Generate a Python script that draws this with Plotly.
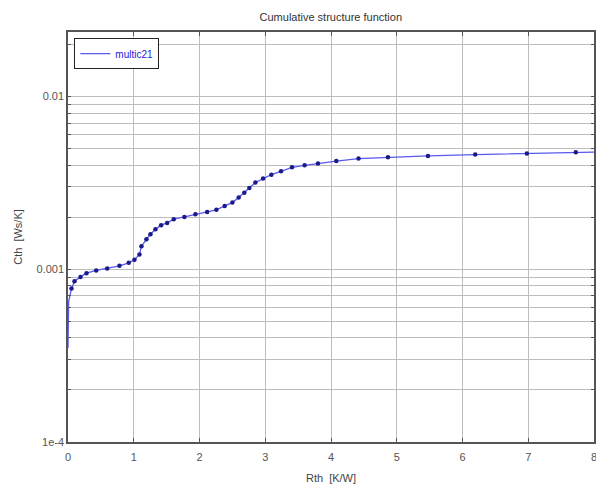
import plotly.graph_objects as go

# Data
rth = [0.0, 0.005, 0.01, 0.053, 0.099, 0.19, 0.281, 0.429, 0.596, 0.783, 0.924, 1.011,
       1.087, 1.117, 1.193, 1.254, 1.330, 1.416, 1.508, 1.608, 1.770, 1.938, 2.116,
       2.257, 2.383, 2.500, 2.596, 2.682, 2.758, 2.850, 2.967, 3.093, 3.240, 3.407,
       3.599, 3.802, 4.081, 4.419, 4.866, 5.474, 6.193, 6.979, 7.723, 8.0]
cth = [3.5e-4, 5.0e-4, 6.5e-4, 7.72e-4, 8.51e-4, 9.02e-4, 9.48e-4, 9.83e-4, 1.01e-3,
       1.045e-3, 1.088e-3, 1.133e-3, 1.217e-3, 1.355e-3, 1.489e-3, 1.592e-3, 1.703e-3,
       1.796e-3, 1.851e-3, 1.945e-3, 2.005e-3, 2.078e-3, 2.143e-3, 2.203e-3, 2.323e-3,
       2.427e-3, 2.599e-3, 2.767e-3, 2.946e-3, 3.175e-3, 3.35e-3, 3.52e-3, 3.68e-3,
       3.88e-3, 3.99e-3, 4.09e-3, 4.22e-3, 4.36e-3, 4.44e-3, 4.52e-3, 4.60e-3, 4.66e-3,
       4.74e-3, 4.76e-3]
has_marker = [False, False, False] + [True] * 40 + [False]

x_ticks = [0, 1, 2, 3, 4, 5, 6, 7, 8]
y_decades = [1e-4, 1e-3, 1e-2]
y_decade_labels = ["1e-4", "0.001", "0.01"]

series_name = "multic21"
title_text = "Cumulative structure function"
x_title = "Rth  [K/W]"
y_title = "Cth  [Ws/K]"

# gridline positions on the log axis (1..9 multiples of each decade)
y_tickvals = []
y_ticktext = []
for d, lab in zip(y_decades, y_decade_labels):
    for k in range(1, 10):
        v = d * k
        if v > 0.0236:
            break
        y_tickvals.append(v)
        y_ticktext.append(lab if k == 1 else "")

blue = "#2323d8"
fig = go.Figure()
fig.add_trace(go.Scatter(
    x=rth, y=cth, mode="lines", name=series_name,
    line=dict(color="#5a5af0", width=1.3),
))
fig.add_trace(go.Scatter(
    x=[r for r, m in zip(rth, has_marker) if m],
    y=[c for c, m in zip(cth, has_marker) if m],
    mode="markers", showlegend=False,
    marker=dict(color="#1a1a8a", size=4.5),
))

font_family = "Liberation Sans, Arial, sans-serif"
fig.update_layout(
    width=596, height=494,
    margin=dict(l=68, r=2, t=32, b=52, autoexpand=False),
    paper_bgcolor="white", plot_bgcolor="white",
    font=dict(family=font_family, size=11, color="#444"),
    title=dict(text=title_text, x=0.555, xanchor="center", y=0.965, yanchor="middle",
               font=dict(size=11, color="#333")),
    showlegend=True,
    legend=dict(x=0.012, y=0.985, xanchor="left", yanchor="top",
                bordercolor="#222", borderwidth=1, bgcolor="white",
                font=dict(size=10, color=blue), itemwidth=30,
                tracegroupgap=0),
)
fig.update_xaxes(
    range=[0, 8], tickvals=x_ticks, ticktext=[str(t) for t in x_ticks],
    showgrid=True, gridcolor="#bdbdbd", gridwidth=1, automargin=False,
    showline=True, linecolor="#555", linewidth=1.5, mirror="ticks",
    ticks="inside", ticklen=4, tickcolor="#555", zeroline=False,
    ticklabeloverflow="allow", ticklabelstandoff=4,
    title=dict(text=x_title, standoff=12, font=dict(size=11, color="#444")),
    tickfont=dict(size=11, color="#555"),
)
fig.update_yaxes(
    type="log", range=[-4, -1.628],
    tickvals=y_tickvals, ticktext=y_ticktext, automargin=False,
    showgrid=True, gridcolor="#bdbdbd", gridwidth=1,
    showline=True, linecolor="#555", linewidth=1.5, mirror="ticks",
    ticks="inside", ticklen=3, tickcolor="#555", zeroline=False,
    title=dict(text=y_title, standoff=12, font=dict(size=11, color="#444")),
    tickfont=dict(size=11, color="#555"),
)
fig.write_html("out.html", config={"displayModeBar": False},
               post_script="document.body.style.margin='0px';")
